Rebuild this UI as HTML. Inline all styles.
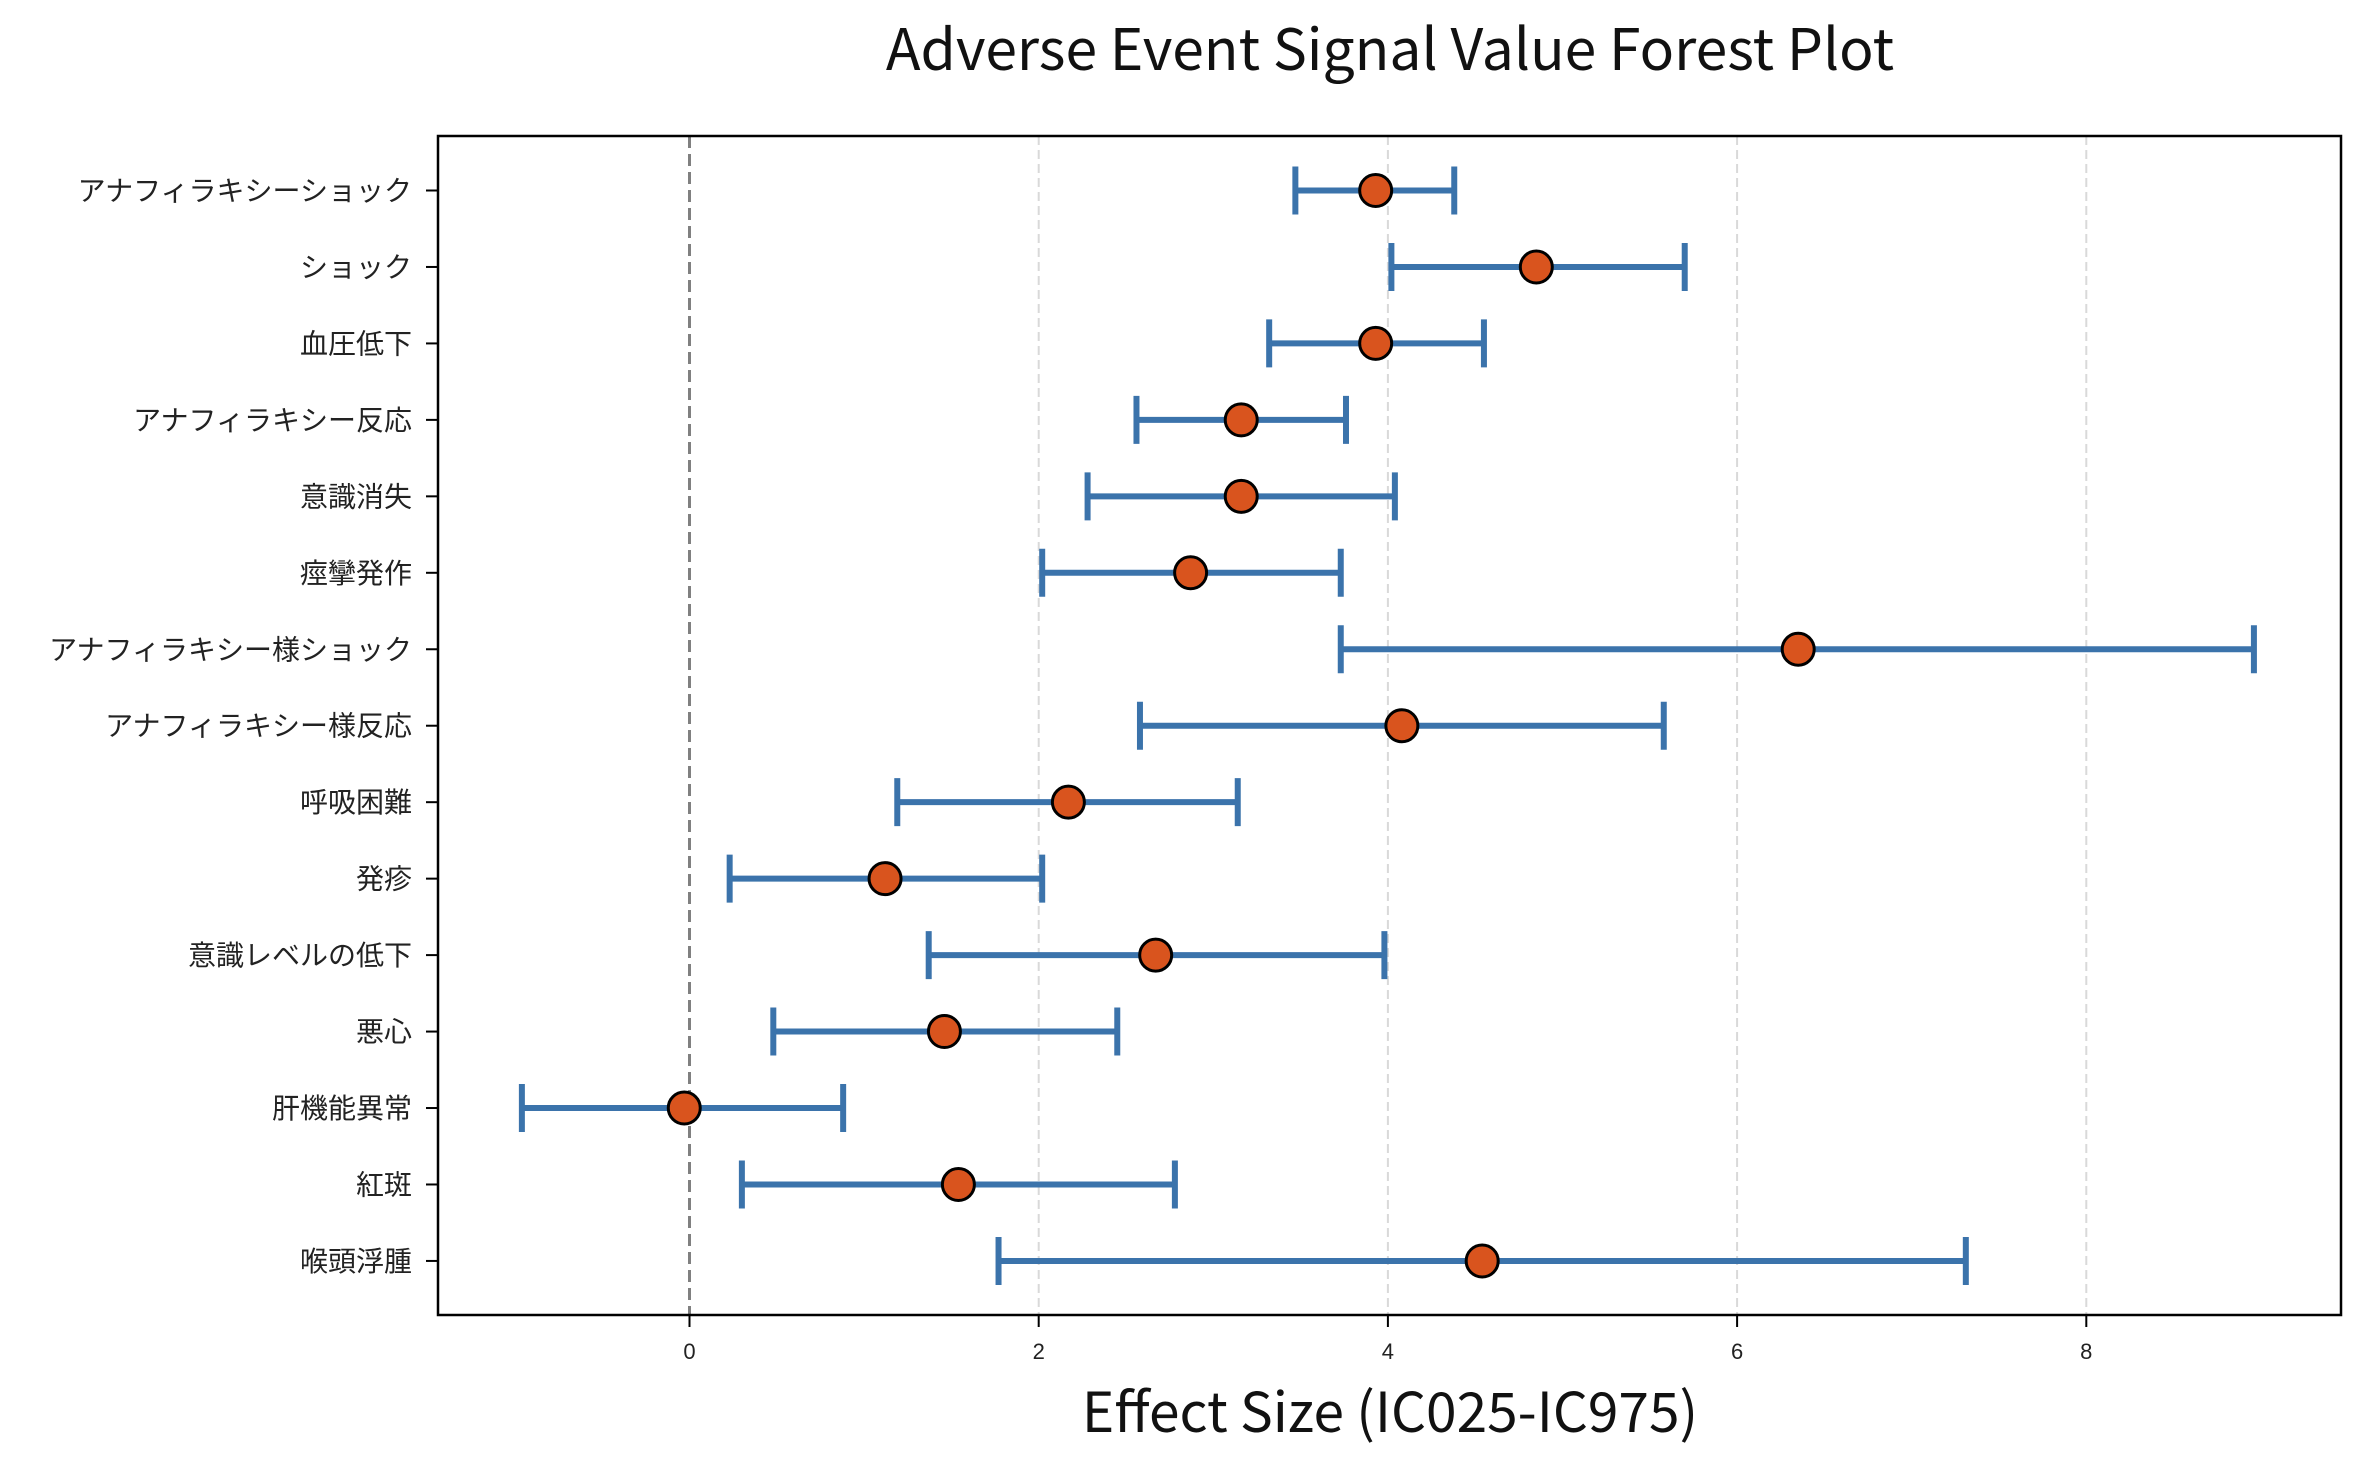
<!DOCTYPE html>
<html><head><meta charset="utf-8"><style>
body{margin:0;background:#fff}
svg{display:block;font-family:"Liberation Sans","Noto Sans CJK JP",sans-serif}
</style></head><body>
<svg id="chart" width="2370" height="1470" viewBox="0 0 2370 1470" xmlns="http://www.w3.org/2000/svg">
<rect width="2370" height="1470" fill="#fff"/>
<text x="1390" y="70" font-size="57" text-anchor="middle" fill="#111" font-family="'Noto Sans CJK JP',sans-serif">Adverse Event Signal Value Forest Plot</text>
<text x="1390" y="1432" font-size="55" text-anchor="middle" fill="#111" font-family="'Noto Sans CJK JP',sans-serif">Effect Size (IC025-IC975)</text>
<g id="grid"></g><g id="marks"></g><g id="axes"></g>
</svg>
<script>
const categories=["アナフィラキシーショック","ショック","血圧低下","アナフィラキシー反応","意識消失","痙攣発作","アナフィラキシー様ショック","アナフィラキシー様反応","呼吸困難","発疹","意識レベルの低下","悪心","肝機能異常","紅斑","喉頭浮腫"];
const lowerValues=[3.47,4.02,3.32,2.56,2.28,2.02,3.73,2.58,1.19,0.23,1.37,0.48,-0.96,0.30,1.77];
const upperValues=[4.38,5.70,4.55,3.76,4.04,3.73,8.96,5.58,3.14,2.02,3.98,2.45,0.88,2.78,7.31];
const pointValues=[3.93,4.85,3.93,3.16,3.16,2.87,6.35,4.08,2.17,1.12,2.67,1.46,-0.03,1.54,4.54];
const xTicks=[0,2,4,6,8];
const NS="http://www.w3.org/2000/svg";
const L=438,R=2341,T=136,B=1315,X0=689.5,XU=174.6,Y0=190.5,YS=76.46;
const xs=v=>X0+v*XU, ys=i=>Y0+i*YS;
function mk(tag,attrs,parent){const e=document.createElementNS(NS,tag);for(const k in attrs)e.setAttribute(k,attrs[k]);document.getElementById(parent).appendChild(e);return e;}
xTicks.forEach(t=>{
 if(t!==0){const g=mk('line',{x1:xs(t),x2:xs(t),y1:T,y2:B,stroke:'#d9d9d9','stroke-width':2,'stroke-dasharray':'9,5'},'grid');
 
 }
 const tk=mk('line',{x1:xs(t),x2:xs(t),y1:B,y2:B+12,stroke:'#000','stroke-width':2},'axes');
 
 
 const tl=mk('text',{x:xs(t),y:B+44,'font-size':22,'text-anchor':'middle',fill:'#222'},'axes');
 tl.textContent=t;
 
 
});
const zl=mk('line',{x1:xs(0),x2:xs(0),y1:T,y2:B,stroke:'#808080','stroke-width':3,'stroke-dasharray':'12,6'},'grid');


categories.forEach((c,i)=>{
 const y=ys(i);
 const ln=mk('line',{x1:xs(lowerValues[i]),x2:xs(upperValues[i]),y1:y,y2:y,stroke:'#3b73ab','stroke-width':6},'marks');
 
 
 [lowerValues[i],upperValues[i]].forEach(v=>{
  const cp=mk('line',{x1:xs(v),x2:xs(v),y1:y-24,y2:y+24,stroke:'#3b73ab','stroke-width':6},'marks');
  
  
 });
 const pt=mk('circle',{cx:xs(pointValues[i]),cy:y,r:16,fill:'#d9541e',stroke:'#000','stroke-width':3},'marks');
 
 
 const tk=mk('line',{x1:L-12,x2:L,y1:y,y2:y,stroke:'#000','stroke-width':2},'axes');
 
 
 const tl=mk('text',{x:L-26,y:y+10,'font-size':28,'text-anchor':'end',fill:'#222'},'axes');
 tl.textContent=c;
 
 
});
const fr=mk('rect',{x:L,y:T,width:R-L,height:B-T,fill:'none',stroke:'#000','stroke-width':2.5},'axes');


</script>
</body></html>
